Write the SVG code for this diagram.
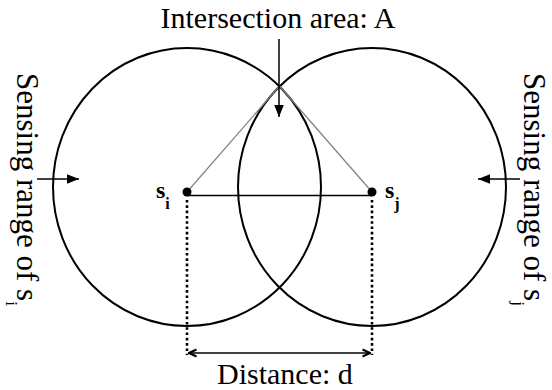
<svg xmlns="http://www.w3.org/2000/svg" width="552" height="390" viewBox="0 0 552 390">
<style>
.lbl{font-family:"Liberation Serif","Tinos","Noto Serif","Nimbus Roman","Times New Roman","Times","DejaVu Serif",serif;font-size:30px;fill:#000}
.rot{font-size:31px}
.node-lbl{font-family:"Liberation Serif","Tinos","Noto Serif","Nimbus Roman","Times New Roman","Times","DejaVu Serif",serif;font-size:24px;font-weight:bold;fill:#000}
.range{fill:none;stroke:#000;stroke-width:2}
.conn{stroke:#000;stroke-width:1.5;fill:none}
.gray{stroke:#808080;stroke-width:1.2;fill:none}
.dots{stroke:#000;stroke-width:2.6;stroke-dasharray:2.6 2.7;fill:none}
</style>
<defs>
<marker id="ah" markerUnits="userSpaceOnUse" markerWidth="12" markerHeight="10" viewBox="0 0 10 8" refX="10" refY="4" orient="auto">
<path d="M0,0 L10,4 L0,8 Z" fill="#000"/>
</marker>
<marker id="chev" markerUnits="userSpaceOnUse" markerWidth="10" markerHeight="10" viewBox="0 0 10 10" refX="9" refY="5" orient="auto-start-reverse">
<path d="M1.5,1.5 L9,5 L1.5,8.5" fill="none" stroke="#000" stroke-width="2"/>
</marker>
</defs>
<rect width="552" height="390" fill="#fff"/>

<g id="range-i">
<ellipse class="range" cx="187" cy="187" rx="134" ry="139"/>
</g>
<g id="range-j">
<ellipse class="range" cx="372" cy="187" rx="134" ry="139"/>
</g>

<g id="connectors">
<line class="gray" x1="279.5" y1="86" x2="187" y2="192"/>
<line class="gray" x1="279.5" y1="86" x2="372" y2="192"/>
<line class="conn" x1="187" y1="195.5" x2="372" y2="195.5"/>
<line class="dots" x1="187" y1="200" x2="187" y2="355"/>
<line class="dots" x1="372" y1="200" x2="372" y2="355"/>
<line class="conn" x1="189" y1="353" x2="370" y2="353" marker-start="url(#chev)" marker-end="url(#chev)"/>
<line class="conn" x1="279" y1="39" x2="279" y2="117" marker-end="url(#ah)"/>
<line class="conn" x1="37" y1="179" x2="79" y2="179" marker-end="url(#ah)"/>
<line class="conn" x1="520" y1="179" x2="478" y2="179" marker-end="url(#ah)"/>
</g>

<g id="node-si">
<circle cx="187" cy="192" r="4.5" fill="#000"/>
<text class="node-lbl" x="156" y="198">s<tspan font-size="16" dy="11">i</tspan></text>
</g>
<g id="node-sj">
<circle cx="372" cy="192" r="4.5" fill="#000"/>
<text class="node-lbl" x="385" y="198">s<tspan font-size="16" dy="11">j</tspan></text>
</g>

<g id="label-intersection">
<text class="lbl" x="278" y="28" text-anchor="middle">Intersection area: A</text>
</g>
<g id="label-distance">
<text class="lbl" x="217" y="384">Distance: d</text>
</g>
<g id="label-range-i">
<text class="lbl rot" transform="translate(17,73) rotate(90)">Sensing range of s<tspan font-size="17" dy="11">i</tspan></text>
</g>
<g id="label-range-j">
<text class="lbl rot" transform="translate(524,73) rotate(90)">Sensing range of s<tspan font-size="17" dy="11">j</tspan></text>
</g>
</svg>
